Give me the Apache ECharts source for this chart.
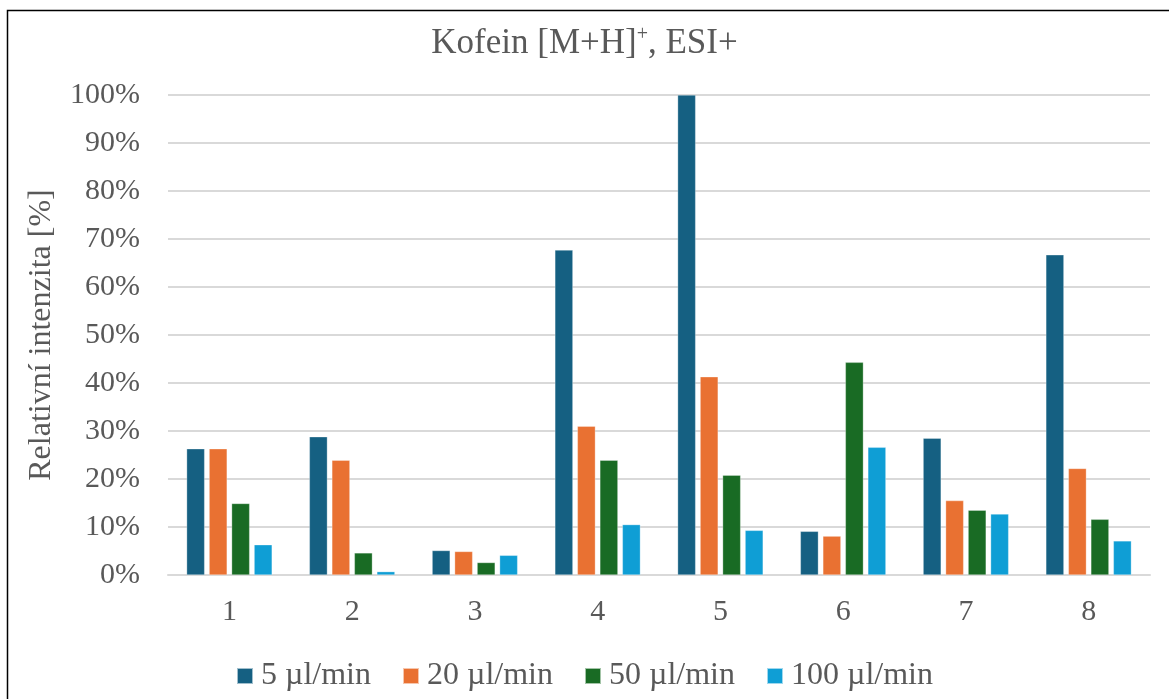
<!DOCTYPE html>
<html>
<head>
<meta charset="utf-8">
<script src="https://cdn.jsdelivr.net/npm/echarts@6/dist/echarts.min.js"></script>
<style>
  html, body { margin: 0; padding: 0; background: #ffffff; }
  #chart { width: 1169px; height: 699px; }
</style>
</head>
<body>
<div id="chart"></div>
<script>
// Measurement points (x axis) and relative intensities in percent per flow rate
const categories = ['1', '2', '3', '4', '5', '6', '7', '8'];
const seriesNames = ['5 µl/min', '20 µl/min', '50 µl/min', '100 µl/min'];
const flow5 = [26.3, 28.8, 5.1, 67.7, 100, 9.1, 28.5, 66.7];
const flow20 = [26.3, 23.9, 4.9, 31.0, 41.3, 8.1, 15.5, 22.2];
const flow50 = [14.9, 4.6, 2.6, 23.9, 20.8, 44.3, 13.5, 11.6];
const flow100 = [6.3, 0.7, 4.1, 10.5, 9.3, 26.6, 12.7, 7.1];
const yTicks = [0, 10, 20, 30, 40, 50, 60, 70, 80, 90, 100];

const colors = ['#156082', '#E97132', '#196B24', '#0F9ED5'];
const values = [flow5, flow20, flow50, flow100];
const font = '"Liberation Serif", "Times New Roman", serif';
const textColor = '#595959';

const chart = echarts.init(document.getElementById('chart'), null, { renderer: 'canvas' });

chart.setOption({
  backgroundColor: '#ffffff',
  animation: false,
  title: {
    text: '{t|Kofein [M+H]}{s|+}{t|, ESI+}',
    left: 'center',
    top: 20,
    textStyle: {
      fontWeight: 'normal',
      rich: {
        t: { fontFamily: font, fontSize: 35, fontWeight: 'normal', color: textColor },
        s: { fontFamily: font, fontSize: 20, fontWeight: 'normal', color: textColor, verticalAlign: 'top', padding: [0, 0, 18, 0] }
      }
    }
  },
  legend: {
    top: 655,
    left: 'center',
    itemWidth: 16,
    itemHeight: 16,
    itemGap: 31,
    icon: 'rect',
    textStyle: { fontFamily: font, fontSize: 32, color: textColor, padding: [0, 0, 0, 3] },
    data: seriesNames
  },
  grid: { left: 168, right: 19, top: 95, bottom: 124 },
  xAxis: {
    type: 'category',
    data: categories,
    axisTick: { show: false },
    axisLine: { lineStyle: { color: '#d9d9d9', width: 2 } },
    axisLabel: { fontFamily: font, fontSize: 30, color: textColor, margin: 22 }
  },
  yAxis: {
    type: 'value',
    min: yTicks[0],
    max: yTicks[yTicks.length - 1],
    interval: 10,
    name: 'Relativní intenzita [%]',
    nameLocation: 'middle',
    nameGap: 110,
    nameTextStyle: { fontFamily: font, fontSize: 32, color: textColor },
    axisLine: { show: false },
    axisTick: { show: false },
    splitLine: { lineStyle: { color: '#d9d9d9', width: 2 } },
    axisLabel: { fontFamily: font, fontSize: 30, color: textColor, margin: 28, formatter: '{value}%' }
  },
  series: seriesNames.map((name, i) => ({
    name: name,
    type: 'bar',
    data: values[i],
    barWidth: 18,
    barGap: '25%',
    itemStyle: { color: colors[i], borderColor: 'rgba(255,255,255,0.6)', borderWidth: 0.5 }
  })),
  graphic: [{
    type: 'rect',
    shape: { x: 7.5, y: 10.5, width: 1175, height: 700 },
    style: { fill: 'none', stroke: '#000000', lineWidth: 1.5 },
    silent: true
  }]
});
</script>
</body>
</html>
